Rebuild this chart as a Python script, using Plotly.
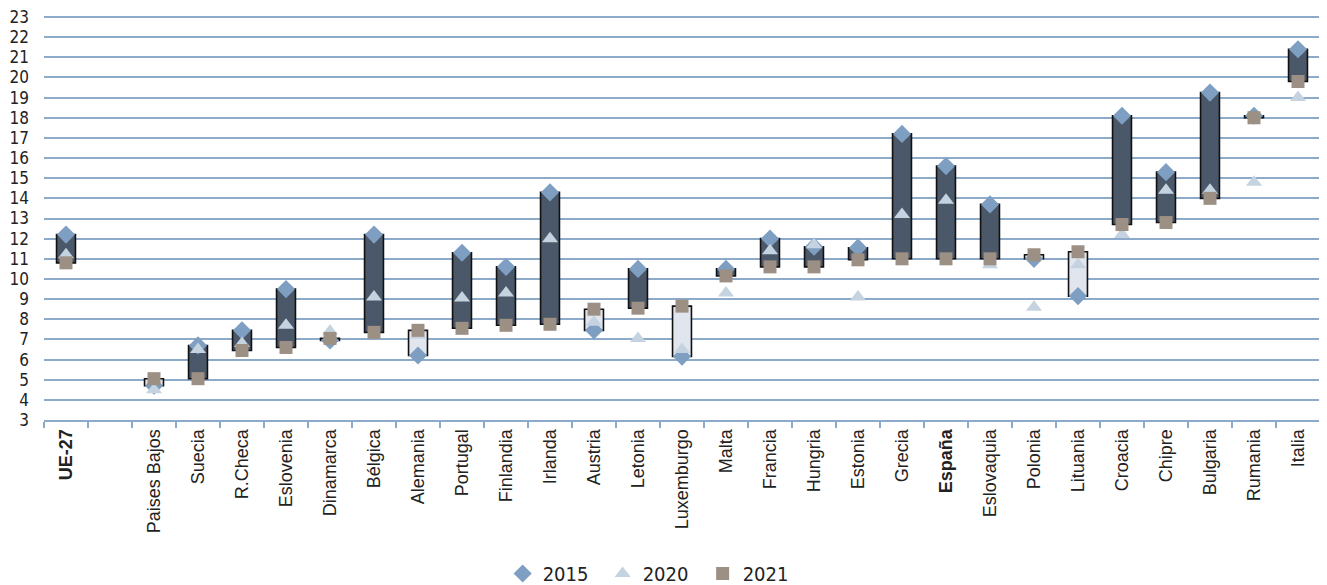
import plotly.graph_objects as go

categories = ["UE-27", "", "Paises Bajos", "Suecia", "R.Checa", "Eslovenia", "Dinamarca",
              "Bélgica", "Alemania", "Portugal", "Finlandia", "Irlanda", "Austria", "Letonia",
              "Luxemburgo", "Malta", "Francia", "Hungria", "Estonia", "Grecia", "España",
              "Eslovaquia", "Polonia", "Lituania", "Croacia", "Chipre", "Bulgaria", "Rumania", "Italia"]
tick_labels = ["<b>UE-27</b>", "", "Paises Bajos", "Suecia", "R.Checa", "Eslovenia", "Dinamarca",
               "Bélgica", "Alemania", "Portugal", "Finlandia", "Irlanda", "Austria", "Letonia",
               "Luxemburgo", "Malta", "Francia", "Hungria", "Estonia", "Grecia", "<b>España</b>",
               "Eslovaquia", "Polonia", "Lituania", "Croacia", "Chipre", "Bulgaria", "Rumania", "Italia"]

v2015 = [12.2, None, 4.7, 6.7, 7.45, 9.5, 6.95, 12.2, 6.2, 11.3, 10.6, 14.3, 7.45, 10.5,
         6.15, 10.5, 12.0, 11.6, 11.55, 17.2, 15.6, 13.7, 11.0, 9.15, 18.1, 15.3, 19.25, 18.1, 21.4]
v2020 = [11.2, None, 4.5, 6.5, 6.8, 7.7, 7.4, 9.1, 7.2, 9.05, 9.3, 12.0, 7.85, 7.05,
         6.5, 9.3, 11.4, 11.7, 9.1, 13.2, 13.9, 10.7, 8.6, 10.7, 12.2, 14.4, 14.4, 14.8, 19.0]
v2021 = [10.8, None, 5.05, 5.05, 6.45, 6.6, 7.05, 7.35, 7.45, 7.55, 7.7, 7.75, 8.5, 8.55,
         8.65, 10.15, 10.6, 10.6, 10.95, 11.0, 11.0, 11.0, 11.2, 11.35, 12.7, 12.8, 14.0, 18.0, 19.8]
y_ticks = list(range(3, 24))

NARROW = "DejaVu Sans Condensed, Liberation Sans Narrow, sans-serif"
SANS = "Liberation Sans, Arial, sans-serif"
GRID = "#8eaacb"

bases, heights, fills = [], [], []
for a, b in zip(v2015, v2021):
    if a is None or b is None:
        bases.append(None); heights.append(None); fills.append("#ffffff")
        continue
    bases.append(min(a, b))
    heights.append(abs(a - b))
    fills.append("#4a5869" if a > b else "#e1e5ee")

fig = go.Figure()
fig.add_trace(go.Bar(
    x=categories, y=heights, base=bases, width=0.43,
    marker=dict(color=fills, line=dict(color="#111111", width=1.6)),
    showlegend=False, hoverinfo="skip"))
fig.add_trace(go.Scatter(
    x=categories, y=v2015, mode="markers", name="2015",
    marker=dict(symbol="diamond", size=14, color="#7f9fc2")))
fig.add_trace(go.Scatter(
    x=categories, y=v2020, mode="markers", name="2020",
    marker=dict(symbol="triangle-up", size=14, color="#c5d3e0")))
fig.add_trace(go.Scatter(
    x=categories, y=v2021, mode="markers", name="2021",
    marker=dict(symbol="square", size=13, color="#9c8f84")))

fig.update_layout(
    width=1327, height=585,
    margin=dict(l=36, r=15, t=8, b=173, autoexpand=False),
    paper_bgcolor="white", plot_bgcolor="white",
    font=dict(family=NARROW, size=15, color="#222222"),
    showlegend=True,
    legend=dict(orientation="h", x=0.477, xanchor="center", y=-0.38, yanchor="middle",
                font=dict(size=20, family=NARROW), itemwidth=30, tracegroupgap=0,
                entrywidth=55, entrywidthmode="pixels"),
)
fig.update_xaxes(
    type="category", categoryorder="array", categoryarray=categories,
    tickvals=categories, ticktext=tick_labels, tickangle=-90,
    tickson="boundaries", ticks="outside", ticklen=6, tickcolor=GRID, tickwidth=2,
    showline=True, linecolor=GRID, linewidth=2, showgrid=False, automargin=False,
    tickfont=dict(size=18, family=SANS, color="#222222"),
    range=[-0.5, 28.5],
)
fig.update_yaxes(
    range=[3, 23.05], tickmode="array", tickvals=y_ticks, ticktext=[str(t) for t in y_ticks],
    showgrid=True, gridcolor=GRID, gridwidth=2,
    zeroline=False, showline=False, ticks="", ticklabelstandoff=14, automargin=False,
    ticklabeloverflow="allow",
    tickfont=dict(size=17, family=NARROW, color="#222222"),
)
fig.write_html("out.html")
